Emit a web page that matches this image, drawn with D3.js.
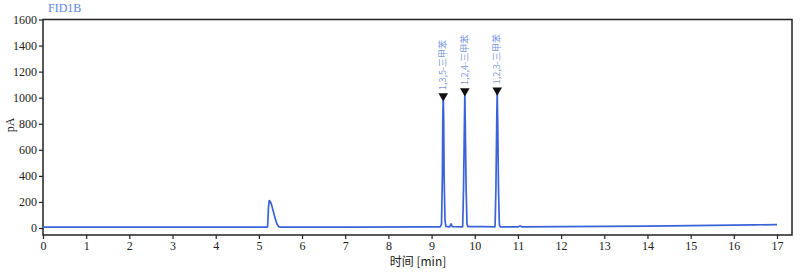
<!DOCTYPE html>
<html>
<head>
<meta charset="utf-8">
<script src="https://cdn.jsdelivr.net/npm/d3@7"></script>
<style>
  body { margin: 0; background: #fff; }
  svg { display: block; }
</style>
</head>
<body>
<div id="chart"></div>
<script>
// retention time (min) and detector signal (pA)
const times = [0, 2, 4, 5.18, 5.2, 5.21, 5.22, 5.24, 5.27, 5.3, 5.34, 5.38, 5.42, 5.46, 5.5,
  7, 9, 9.2, 9.23, 9.25, 9.26, 9.27, 9.28, 9.29, 9.31, 9.33, 9.42, 9.45, 9.48,
  9.72, 9.74, 9.76, 9.77, 9.78, 9.8, 9.82, 9.84, 10.2, 10.47, 10.49, 10.51, 10.52, 10.53, 10.55, 10.57,
  10.6, 11.0, 11.05, 11.1, 12, 13, 14, 15, 16, 16.5, 17];
const signal = [6, 6, 6, 6, 8, 60, 150, 210, 200, 170, 120, 70, 30, 10, 7,
  7, 8, 9, 30, 400, 850, 1005, 850, 400, 60, 12, 9, 32, 10,
  9, 300, 800, 1044, 800, 300, 30, 11, 10, 9, 300, 850, 1050, 850, 300, 20,
  9, 9, 15, 9, 11, 13, 15, 18, 22, 24, 26];

const peakTimes = [9.27, 9.77, 10.52];
const peakHeights = [1005, 1044, 1050];
const peakNames = ["1,3,5-三甲苯", "1,2,4-三甲苯", "1,2,3-三甲苯"];

const xTicks = d3.range(0, 18);
const yTicks = [0, 200, 400, 600, 800, 1000, 1200, 1400, 1600];

const W = 800, H = 273;
const mLeft = 43, mRight = 792, mTop = 19.5, mBottom = 235;

const x = d3.scaleLinear().domain([0, 17]).range([mLeft, 777]);
const y = d3.scaleLinear().domain([0, 1600]).range([228, mTop]);

const svg = d3.select("#chart").append("svg")
  .attr("width", W).attr("height", H);

const tickFont = "'Liberation Serif', 'DejaVu Serif', serif";

// frame
svg.append("rect")
  .attr("x", mLeft).attr("y", mTop)
  .attr("width", mRight - mLeft).attr("height", mBottom - mTop)
  .attr("fill", "none").attr("stroke", "#222").attr("stroke-width", 1.5);

// axes
const xAxis = svg.append("g")
  .attr("transform", "translate(0," + mBottom + ")")
  .call(d3.axisBottom(x).tickValues(xTicks).tickSize(4).tickPadding(2).tickFormat(d3.format("d")));
const yAxis = svg.append("g")
  .attr("transform", "translate(" + mLeft + ",0)")
  .call(d3.axisLeft(y).tickValues(yTicks).tickSize(4).tickPadding(2).tickFormat(d3.format("d")));

[xAxis, yAxis].forEach(g => {
  g.select(".domain").remove();
  g.selectAll(".tick line").attr("stroke", "#222").attr("stroke-width", 1.2);
  g.selectAll("text").attr("font-family", tickFont).attr("font-size", 12).attr("fill", "#222");
});

// trace
const pts = times.map((t, i) => [t, signal[i]]);
svg.append("path")
  .datum(pts)
  .attr("d", d3.line().x(d => x(d[0])).y(d => y(d[1])))
  .attr("fill", "none")
  .attr("stroke", "#3a63d8")
  .attr("stroke-width", 1.7)
  .attr("stroke-linejoin", "round");

// peak markers
const sym = d3.symbol().type(d3.symbolTriangle).size(40);
peakTimes.forEach((t, i) => {
  const px = x(t), py = y(peakHeights[i]);
  svg.append("path")
    .attr("d", sym())
    .attr("transform", "translate(" + px + "," + (py - 1) + ") rotate(180)")
    .attr("fill", "#111");
  svg.append("text")
    .attr("transform", "translate(" + (px + 3) + "," + (py - 7) + ") rotate(-90)")
    .attr("font-family", "'Noto Sans CJK SC', sans-serif")
    .attr("font-size", 9)
    .attr("fill", "#7b97e0")
    .text(peakNames[i]);
});

// titles
svg.append("text")
  .attr("x", 48).attr("y", 12)
  .attr("font-family", "'Liberation Serif', serif")
  .attr("font-size", 12)
  .attr("fill", "#5d83dc")
  .text("FID1B");

svg.append("text")
  .attr("transform", "translate(14,125) rotate(-90)")
  .attr("text-anchor", "middle")
  .attr("font-family", tickFont)
  .attr("font-size", 12)
  .attr("fill", "#222")
  .text("pA");

svg.append("text")
  .attr("x", 418).attr("y", 266)
  .attr("text-anchor", "middle")
  .attr("font-family", "'Noto Sans CJK SC', sans-serif")
  .attr("font-size", 12)
  .attr("fill", "#222")
  .text("时间 [min]");
</script>
</body>
</html>
